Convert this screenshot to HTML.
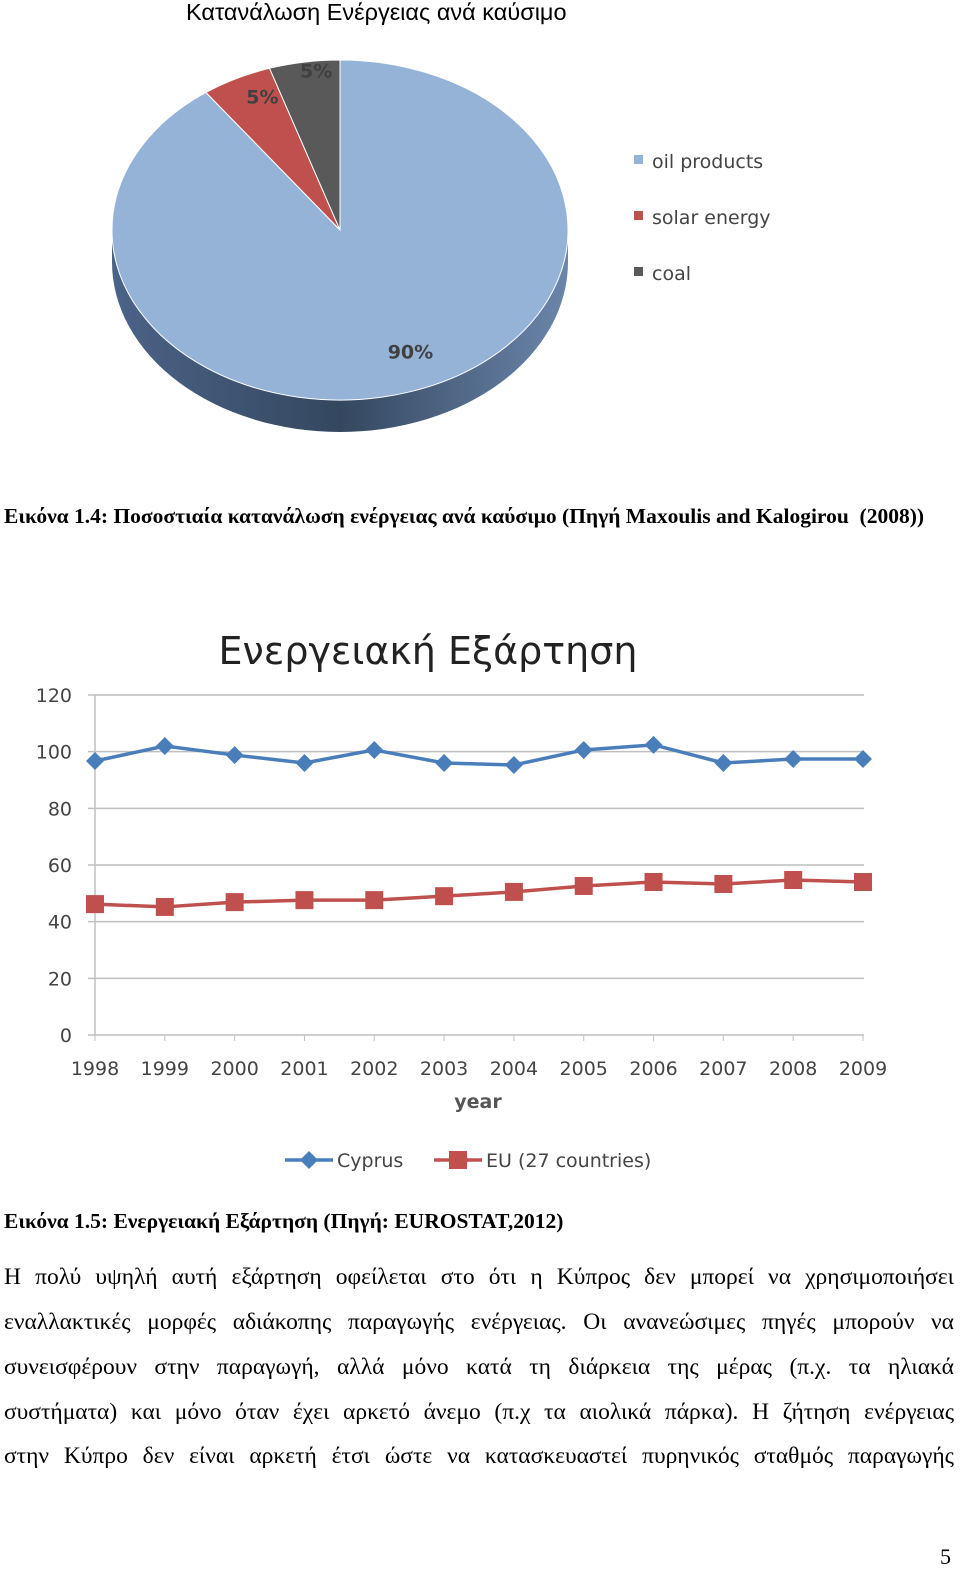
<!DOCTYPE html>
<html><head><meta charset="utf-8"><style>
body{margin:0;width:960px;height:1574px;background:#fff;position:relative;overflow:hidden;font-family:"Liberation Serif",serif;}
.abs{position:absolute;}
.cap{font-weight:bold;font-size:21.5px;left:4px;white-space:nowrap;}
.pl{left:4px;width:950px;font-size:23.5px;height:45px;line-height:45px;text-align:justify;text-align-last:justify;white-space:nowrap;}
</style></head><body>
<div class="abs" style="left:186px;top:-1px;font-family:'Liberation Sans',sans-serif;font-size:23.5px;">Κατανάλωση Ενέργειας ανά καύσιμο</div>
<svg class="abs" style="left:0;top:0" width="960" height="1574">
<defs><linearGradient id="side" x1="0" x2="1"><stop offset="0" stop-color="#4b6387"/><stop offset="0.5" stop-color="#34475f"/><stop offset="1" stop-color="#6b86ab"/></linearGradient></defs>
<g id="pie"></g>
<g id="line"></g>
</svg>
<div class="abs cap" style="top:504px;">Εικόνα 1.4: Ποσοστιαία κατανάλωση ενέργειας ανά καύσιμο (Πηγή Maxoulis and Kalogirou&nbsp; (2008))</div>
<div class="abs cap" style="top:1209px;">Εικόνα 1.5: Ενεργειακή Εξάρτηση (Πηγή: EUROSTAT,2012)</div>
<div>
<div class="abs pl" style="top:1255px;">Η πολύ υψηλή αυτή εξάρτηση οφείλεται στο ότι η Κύπρος δεν μπορεί να χρησιμοποιήσει</div>
<div class="abs pl" style="top:1300px;">εναλλακτικές μορφές αδιάκοπης παραγωγής ενέργειας. Οι ανανεώσιμες πηγές μπορούν να</div>
<div class="abs pl" style="top:1345px;">συνεισφέρουν στην παραγωγή, αλλά μόνο κατά τη διάρκεια της μέρας (π.χ. τα ηλιακά</div>
<div class="abs pl" style="top:1390px;">συστήματα) και μόνο όταν έχει αρκετό άνεμο (π.χ τα αιολικά πάρκα). Η ζήτηση ενέργειας</div>
<div class="abs pl" style="top:1434px;">στην Κύπρο δεν είναι αρκετή έτσι ώστε να κατασκευαστεί πυρηνικός σταθμός παραγωγής</div>
</div>
<div class="abs" style="left:940px;top:1544px;font-size:22px;">5</div>
<script>
const pieLabels=["oil products","solar energy","coal"];
const pieValues=[90,5,5];
const pieColors=["#95b3d7","#c0504d","#595959"];
const years=["1998","1999","2000","2001","2002","2003","2004","2005","2006","2007","2008","2009"];
const cyprus=[96.7,102,98.8,96,100.6,96,95.3,100.6,102.4,96,97.4,97.4];
const eu=[46.2,45.2,46.9,47.6,47.6,49,50.5,52.6,54,53.3,54.7,54];
const yTicks=[0,20,40,60,80,100,120];
const NS="http://www.w3.org/2000/svg";
function mk(p,t,a,txt){const e=document.createElementNS(NS,t);for(const k in a)e.setAttribute(k,a[k]);if(txt!==undefined)e.textContent=txt;p.appendChild(e);return e;}
const pie=document.getElementById('pie');
const cx=340,cy=230,rx=228,ry=170,dep=32;
const lfx=[1.0,0.75,0.67],lfy=[0.75,0.88,0.95];
let s=mk(pie,'path',{d:`M${cx-rx},${cy} L${cx-rx},${cy+dep} A${rx},${ry} 0 0 0 ${cx+rx},${cy+dep} L${cx+rx},${cy} Z`,fill:'url(#side)'});


const tot=pieValues.reduce((a,b)=>a+b,0);
let ang=-Math.PI/2;
for(let i=0;i<pieValues.length;i++){
 const sw=pieValues[i]/tot*2*Math.PI;
 const a0=ang,a1=ang+sw;ang=a1;
 const x0=cx+rx*Math.cos(a0),y0=cy+ry*Math.sin(a0),x1=cx+rx*Math.cos(a1),y1=cy+ry*Math.sin(a1);
 const p=mk(pie,'path',{d:`M${cx},${cy} L${x0},${y0} A${rx},${ry} 0 ${sw>Math.PI?1:0} 1 ${x1},${y1} Z`,fill:pieColors[i],stroke:'#fff','stroke-width':1});
 
 
 const am=(a0+a1)/2;
 const t=mk(pie,'text',{x:cx+rx*lfx[i]*Math.cos(am),y:cy+ry*lfy[i]*Math.sin(am)+7,'text-anchor':'middle','font-family':'DejaVu Sans, sans-serif','font-size':19,'font-weight':'bold',fill:'#404040'},pieValues[i]+'%');
 
 
}
pieLabels.forEach((l,i)=>{
 const y=161+i*56;
 const r=mk(pie,'rect',{x:634,y:y-6,width:9,height:9,fill:pieColors[i]});
 
 
 const t=mk(pie,'text',{x:652,y:y+7,'font-family':'DejaVu Sans, sans-serif','font-size':19,fill:'#444'},l);
 
 
});
const g=document.getElementById('line');
const X=i=>95+i*(863-95)/(years.length-1);
const Y=v=>1035-v*(1035-695)/120;
let tt=mk(g,'text',{x:428,y:664,'text-anchor':'middle','font-family':'DejaVu Sans, sans-serif','font-size':38,fill:'#222'},'Ενεργειακή Εξάρτηση');


yTicks.forEach(v=>{
 const l=mk(g,'line',{x1:88,x2:864,y1:Y(v),y2:Y(v),stroke:'#bfbfbf','stroke-width':1.5});
 
 
 const t=mk(g,'text',{x:72,y:Y(v)+7,'text-anchor':'end','font-family':'DejaVu Sans, sans-serif','font-size':19,fill:'#444'},v);
 
 
});
mk(g,'line',{x1:95,x2:95,y1:Y(120),y2:Y(0),stroke:'#bfbfbf','stroke-width':1.5});
years.forEach((y,i)=>{
 mk(g,'line',{x1:X(i),x2:X(i),y1:Y(0),y2:Y(0)+6,stroke:'#bfbfbf'});
 const t=mk(g,'text',{x:X(i),y:1075,'text-anchor':'middle','font-family':'DejaVu Sans, sans-serif','font-size':19,fill:'#444'},y);
 
 
});
let xt=mk(g,'text',{x:478,y:1108,'text-anchor':'middle','font-family':'DejaVu Sans, sans-serif','font-size':19,'font-weight':'bold',fill:'#555'},'year');


function series(vals,col,name,marker){
 const pl=mk(g,'polyline',{points:vals.map((v,i)=>X(i)+','+Y(v)).join(' '),fill:'none',stroke:col,'stroke-width':3.5});
 
 
 vals.forEach((v,i)=>{
  const m=marker(X(i),Y(v));
  
  
 });
}
const diamond=(x,y)=>mk(g,'path',{d:`M${x},${y-9}L${x+9},${y}L${x},${y+9}L${x-9},${y}Z`,fill:'#4a7ebb'});
const square=(x,y)=>mk(g,'rect',{x:x-9,y:y-9,width:18,height:18,fill:'#c0504d'});
series(cyprus,'#4a7ebb','cyprus',diamond);
series(eu,'#c0504d','eu',square);
mk(g,'line',{x1:285,x2:333,y1:1160,y2:1160,stroke:'#4a7ebb','stroke-width':3.5});
const dm=diamond(309,1160);

let lc=mk(g,'text',{x:337,y:1167,'font-family':'DejaVu Sans, sans-serif','font-size':19,fill:'#444'},'Cyprus');


mk(g,'line',{x1:434,x2:482,y1:1160,y2:1160,stroke:'#c0504d','stroke-width':3.5});
const sm=square(458,1160);

let le=mk(g,'text',{x:486,y:1167,'font-family':'DejaVu Sans, sans-serif','font-size':19,fill:'#444'},'EU (27 countries)');


</script>
</body></html>
